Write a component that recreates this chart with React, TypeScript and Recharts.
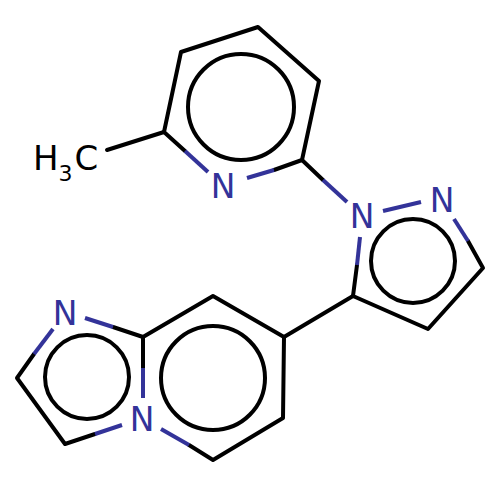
import { ScatterChart, Scatter, XAxis, YAxis } from 'recharts';

type Pt = { x: number; y: number };

const BLACK = '#000000';
const BLUE = '#333399';
const FONT = '"DejaVu Sans", sans-serif';

const pts = (list: number[][]): Pt[] => list.map(([x, y]) => ({ x, y }));

// carbon skeleton, as polylines
const blackBonds = [
  [[107, 150], [164, 132]],
  [[185, 151], [164, 132], [181, 52], [258, 27], [319, 81], [302, 160], [274, 170]],
  [[302, 160], [323, 180]],
  [[357, 265], [353, 296], [428, 329], [483, 268], [468, 241]],
  [[353, 296], [284, 337]],
  [[143, 368], [143, 337], [213, 296], [284, 337], [283, 418], [213, 460], [189, 445]],
  [[143, 337], [113, 327]],
  [[34, 354], [17, 378], [65, 444], [95, 434]],
];

// halves of the bonds next to a nitrogen
const blueBonds = [
  [[185, 151], [208, 172]],
  [[274, 170], [247, 178]],
  [[323, 180], [347, 202]],
  [[383, 211], [421, 202]],
  [[454, 219], [468, 241]],
  [[360, 237], [357, 265]],
  [[53, 329], [34, 354]],
  [[85, 318], [113, 327]],
  [[143, 368], [143, 398]],
  [[122, 425], [95, 434]],
  [[161, 429], [189, 445]],
];

const ringCenters = [[241, 107], [413, 261], [213, 378], [87, 377]];
const ringRadii = [53, 42, 52, 42];

const nitrogens = [[223, 198], [362, 228], [442, 212], [65, 325], [142, 431]];

const RingShape = (props: any) => (
  <circle
    cx={props.cx}
    cy={props.cy}
    r={props.payload.r}
    fill="none"
    stroke={BLACK}
    strokeWidth={4}
  />
);

const NitrogenShape = (props: any) => (
  <text x={props.cx} y={props.cy} textAnchor="middle" fontFamily={FONT} fontSize={33} fill={BLUE}>
    N
  </text>
);

const MethylShape = (props: any) => (
  <text x={props.cx} y={props.cy} fontFamily={FONT} fontSize={34} fill={BLACK}>
    H
    <tspan fontSize={22} dy={11}>3</tspan>
    <tspan dx={2} dy={-11}>C</tspan>
  </text>
);

const noDot = () => <g />;

export default function App() {
  return (
    <div style={{ position: 'absolute', left: 0, top: 0, width: 500, height: 500, background: '#fff' }}>
      <ScatterChart width={500} height={500} margin={{ top: 0, right: 0, bottom: 0, left: 0 }}>
        <XAxis type="number" dataKey="x" domain={[0, 500]} hide />
        <YAxis type="number" dataKey="y" domain={[0, 500]} reversed hide />
        {blackBonds.map((b, i) => (
          <Scatter
            key={`b${i}`}
            data={pts(b)}
            line={{ stroke: BLACK, strokeWidth: 4, strokeLinecap: 'round', strokeLinejoin: 'round' }}
            shape={noDot}
            isAnimationActive={false}
          />
        ))}
        {blueBonds.map((b, i) => (
          <Scatter
            key={`n${i}`}
            data={pts(b)}
            line={{ stroke: BLUE, strokeWidth: 4 }}
            shape={noDot}
            isAnimationActive={false}
          />
        ))}
        <Scatter
          data={ringCenters.map(([x, y], i) => ({ x, y, r: ringRadii[i] }))}
          shape={RingShape}
          isAnimationActive={false}
        />
        <Scatter data={pts(nitrogens)} shape={NitrogenShape} isAnimationActive={false} />
        <Scatter data={pts([[33, 170]])} shape={MethylShape} isAnimationActive={false} />
      </ScatterChart>
    </div>
  );
}
